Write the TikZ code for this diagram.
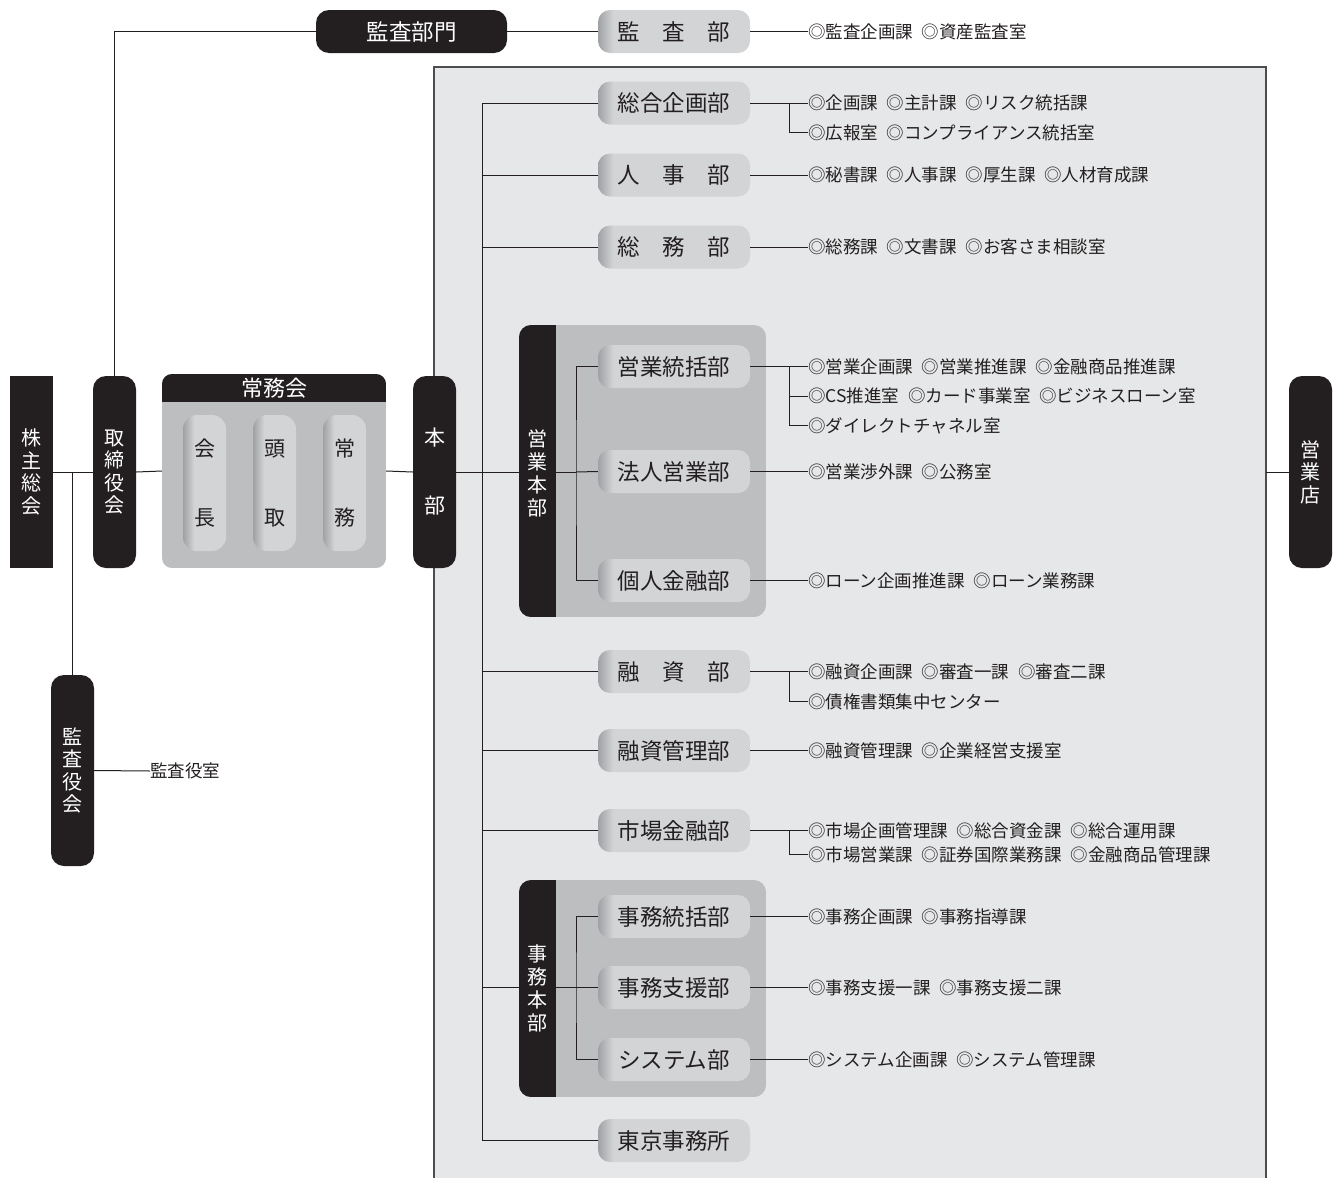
\documentclass[tikz,border=0pt]{standalone}
\usepackage{fontspec}
\setmainfont{Noto Sans CJK JP}
\usetikzlibrary{calc}
\definecolor{blk}{HTML}{231F20}
\definecolor{pdk}{HTML}{9FA1A4}
\definecolor{plt}{HTML}{D3D4D6}
\definecolor{grp}{HTML}{BCBEC0}
\definecolor{pnl}{HTML}{E6E7E8}
\definecolor{pbd}{HTML}{4D4D4F}
\pgfdeclarehorizontalshading{pillh}{100bp}{color(0bp)=(pdk); color(25bp)=(pdk); color(30bp)=(plt); color(100bp)=(plt)}
\pgfdeclarehorizontalshading{pillv}{100bp}{color(0bp)=(pdk); color(25bp)=(pdk); color(38bp)=(plt); color(100bp)=(plt)}
\newcommand\gp{\hspace{0.5em}}
\begin{document}
\begin{tikzpicture}[x=1pt,y=-1pt,
 ln/.style={draw=blk, line width=1pt},
 bk/.style={fill=blk, text=white, rounded corners=13pt, minimum width=43pt, minimum height=192pt, inner sep=0pt, align=center, font=\fontsize{20}{22.6}\selectfont},
 pill/.style={shading=pillh, rounded corners=12pt, minimum width=152pt, minimum height=43pt, inner sep=0pt, text=blk, font=\fontsize{22.5}{24}\selectfont, text height=17pt, text depth=0pt},
 vpill/.style={shading=pillv, rounded corners=14pt, minimum width=43pt, minimum height=136pt, inner sep=0pt, text=blk, align=center, font=\fontsize{21}{69}\selectfont},
 lb/.style={anchor=west, inner sep=0pt, text=blk, font=\fontsize{17.5}{19}\selectfont, text height=13.3pt, text depth=0pt},
 bartext/.style={text=white, align=center, font=\fontsize{20}{23}\selectfont, inner sep=0pt},
]
\useasboundingbox (0,0) rectangle (1341,1178);
% panel
\fill[pnl] (434,67) rectangle (1266,1178);
\draw[pbd, line width=1.5pt] (434,1178) -- (434,67) -- (1266,67) -- (1266,1178);
% 常務会 group
\begin{scope}
\clip[rounded corners=10pt] (162,374) rectangle (386,568);
\fill[grp] (162,374) rectangle (386,568);
\fill[blk] (162,374) rectangle (386,402);
\end{scope}
% 営業本部 group
\begin{scope}
\clip[rounded corners=12pt] (519,325) rectangle (766,617);
\fill[grp] (519,325) rectangle (766,617);
\fill[blk] (519,325) rectangle (556,617);
\end{scope}
% 事務本部 group
\begin{scope}
\clip[rounded corners=12pt] (519,880) rectangle (766,1097);
\fill[grp] (519,880) rectangle (766,1097);
\fill[blk] (519,880) rectangle (556,1097);
\end{scope}
% group anchor nodes
\node[inner sep=0pt, minimum width=224pt, minimum height=194pt] (jm) at (274,471) {};
\node[text=white, font=\fontsize{22}{24}\selectfont, inner sep=0pt, text height=16.7pt, text depth=0pt] (jmt) at (274,388) {常務会};
\node[vpill] (p1) at (204.5,483) {会\\長};
\node[vpill] (p2) at (274.5,483) {頭\\取};
\node[vpill] (p3) at (344.5,483) {常\\務};
% black boxes
\node[bk, rounded corners=0pt] (kabu) at (31.5,472) {株\\主\\総\\会};
\node[bk] (tori) at (114.5,472) {取\\締\\役\\会};
\node[bk, font=\fontsize{21}{68}\selectfont] (honbu) at (434.5,472) {本\\部};
\node[bk] (ten) at (1310.5,472) {営\\業\\店};
\node[bk, minimum height=191pt] (kyaku) at (72.5,770.5) {監\\査\\役\\会};
\node[bk, minimum width=191pt, minimum height=43pt, font=\fontsize{22.5}{24}\selectfont, text height=17pt, text depth=0pt] (kbm) at (411.5,31.5) {監査部門};
\node[lb] (lky) at (150,771) {監査役室};
% departments
\node[pill] (kansa) at (674,31.5) {監　査　部};
\node[pill] (sogo) at (674,103) {総合企画部};
\node[pill] (jinji) at (674,175) {人　事　部};
\node[pill] (somu) at (674,247) {総　務　部};
\node[pill] (toukatsu) at (674,366.5) {営業統括部};
\node[pill] (hojin) at (674,471.5) {法人営業部};
\node[pill] (kojin) at (674,580.5) {個人金融部};
\node[pill] (yushi) at (674,671.5) {融　資　部};
\node[pill] (kanri) at (674,750.5) {融資管理部};
\node[pill] (shijo) at (674,830.5) {市場金融部};
\node[pill] (jtou) at (674,916.5) {事務統括部};
\node[pill] (shien) at (674,987.5) {事務支援部};
\node[pill] (sys) at (674,1059.5) {システム部};
\node[pill] (tokyo) at (674,1140.5) {東京事務所};
% labels
\node[lb] (lka) at (808,31.5) {◎監査企画課\gp◎資産監査室};
\node[lb] (ls1) at (808,103) {◎企画課\gp◎主計課\gp◎リスク統括課};
\node[lb] (ls2) at (808,132.5) {◎広報室\gp◎コンプライアンス統括室};
\node[lb] (lj) at (808,175) {◎秘書課\gp◎人事課\gp◎厚生課\gp◎人材育成課};
\node[lb] (lsm) at (808,247) {◎総務課\gp◎文書課\gp◎お客さま相談室};
\node[lb] (lt1) at (808,366.5) {◎営業企画課\gp◎営業推進課\gp◎金融商品推進課};
\node[lb] (lt2) at (808,396) {◎CS推進室\gp◎カード事業室\gp◎ビジネスローン室};
\node[lb] (lt3) at (808,425.5) {◎ダイレクトチャネル室};
\node[lb] (lh) at (808,471.5) {◎営業渉外課\gp◎公務室};
\node[lb] (lk) at (808,580.5) {◎ローン企画推進課\gp◎ローン業務課};
\node[lb] (ly1) at (808,671.5) {◎融資企画課\gp◎審査一課\gp◎審査二課};
\node[lb] (ly2) at (808,701.5) {◎債権書類集中センター};
\node[lb] (lkr) at (808,750.5) {◎融資管理課\gp◎企業経営支援室};
\node[lb] (lm1) at (808,830.5) {◎市場企画管理課\gp◎総合資金課\gp◎総合運用課};
\node[lb] (lm2) at (808,854.5) {◎市場営業課\gp◎証券国際業務課\gp◎金融商品管理課};
\node[lb] (ljt) at (808,916.5) {◎事務企画課\gp◎事務指導課};
\node[lb] (ljs) at (808,987.5) {◎事務支援一課\gp◎事務支援二課};
\node[lb] (lsy) at (808,1059.5) {◎システム企画課\gp◎システム管理課};
% coordinates
\coordinate (T1) at (482,103);
\coordinate (T2) at (482,1140.5);
\coordinate (eb) at (576,472);
\coordinate (jb) at (576,987.5);
\coordinate (PR) at (1266,472);
% connectors left
\draw[ln] (kabu.east) -- (tori.west);
\draw[ln] (tori.east) -- (jm.west);
\draw[ln] (jm.east) -- (honbu.west);
\draw[ln] (kyaku.north) -- (kyaku.north |- kabu.east);
\draw[ln] (tori.north) |- (kbm.west);
\draw[ln] (kbm.east) -- (kansa.west);
\draw[ln] (kyaku.east) -- (lky.west);
% trunk
\draw[ln] (T1) -- (T2);
\draw[ln] (honbu.east) -- (eb);
\foreach \d in {sogo,jinji,somu,yushi,kanri,shijo,tokyo}
  \draw[ln] (\d.west) -- (\d.west -| T1);
\draw[ln] (jb -| T1) -- (jb);
% sub branches
\draw[ln] (toukatsu.west) -| (eb) |- (kojin.west);
\draw[ln] (eb) -- (hojin.west);
\draw[ln] (jtou.west) -| (jb) |- (sys.west);
\draw[ln] (jb) -- (shien.west);
\draw[ln] (PR) -- (ten.west);
% right labels
\draw[ln] (kansa.east) -- (lka.west);
\draw[ln] (sogo.east) -- (ls1.west);
\draw[ln] (sogo.east) ++(39,0) |- (ls2.west);
\draw[ln] (jinji.east) -- (lj.west);
\draw[ln] (somu.east) -- (lsm.west);
\draw[ln] (toukatsu.east) -- (lt1.west);
\draw[ln] (toukatsu.east) ++(39,0) |- (lt2.west);
\draw[ln] (toukatsu.east) ++(39,0) |- (lt3.west);
\draw[ln] (hojin.east) -- (lh.west);
\draw[ln] (kojin.east) -- (lk.west);
\draw[ln] (yushi.east) -- (ly1.west);
\draw[ln] (yushi.east) ++(39,0) |- (ly2.west);
\draw[ln] (kanri.east) -- (lkr.west);
\draw[ln] (shijo.east) -- (lm1.west);
\draw[ln] (shijo.east) ++(39,0) |- (lm2.west);
\draw[ln] (jtou.east) -- (ljt.west);
\draw[ln] (shien.east) -- (ljs.west);
\draw[ln] (sys.east) -- (lsy.west);
% bar texts on top
\node[bartext] (eht) at (537.5,473) {営\\業\\本\\部};
\node[bartext] (jht) at (537.5,988) {事\\務\\本\\部};
\end{tikzpicture}
\end{document}
